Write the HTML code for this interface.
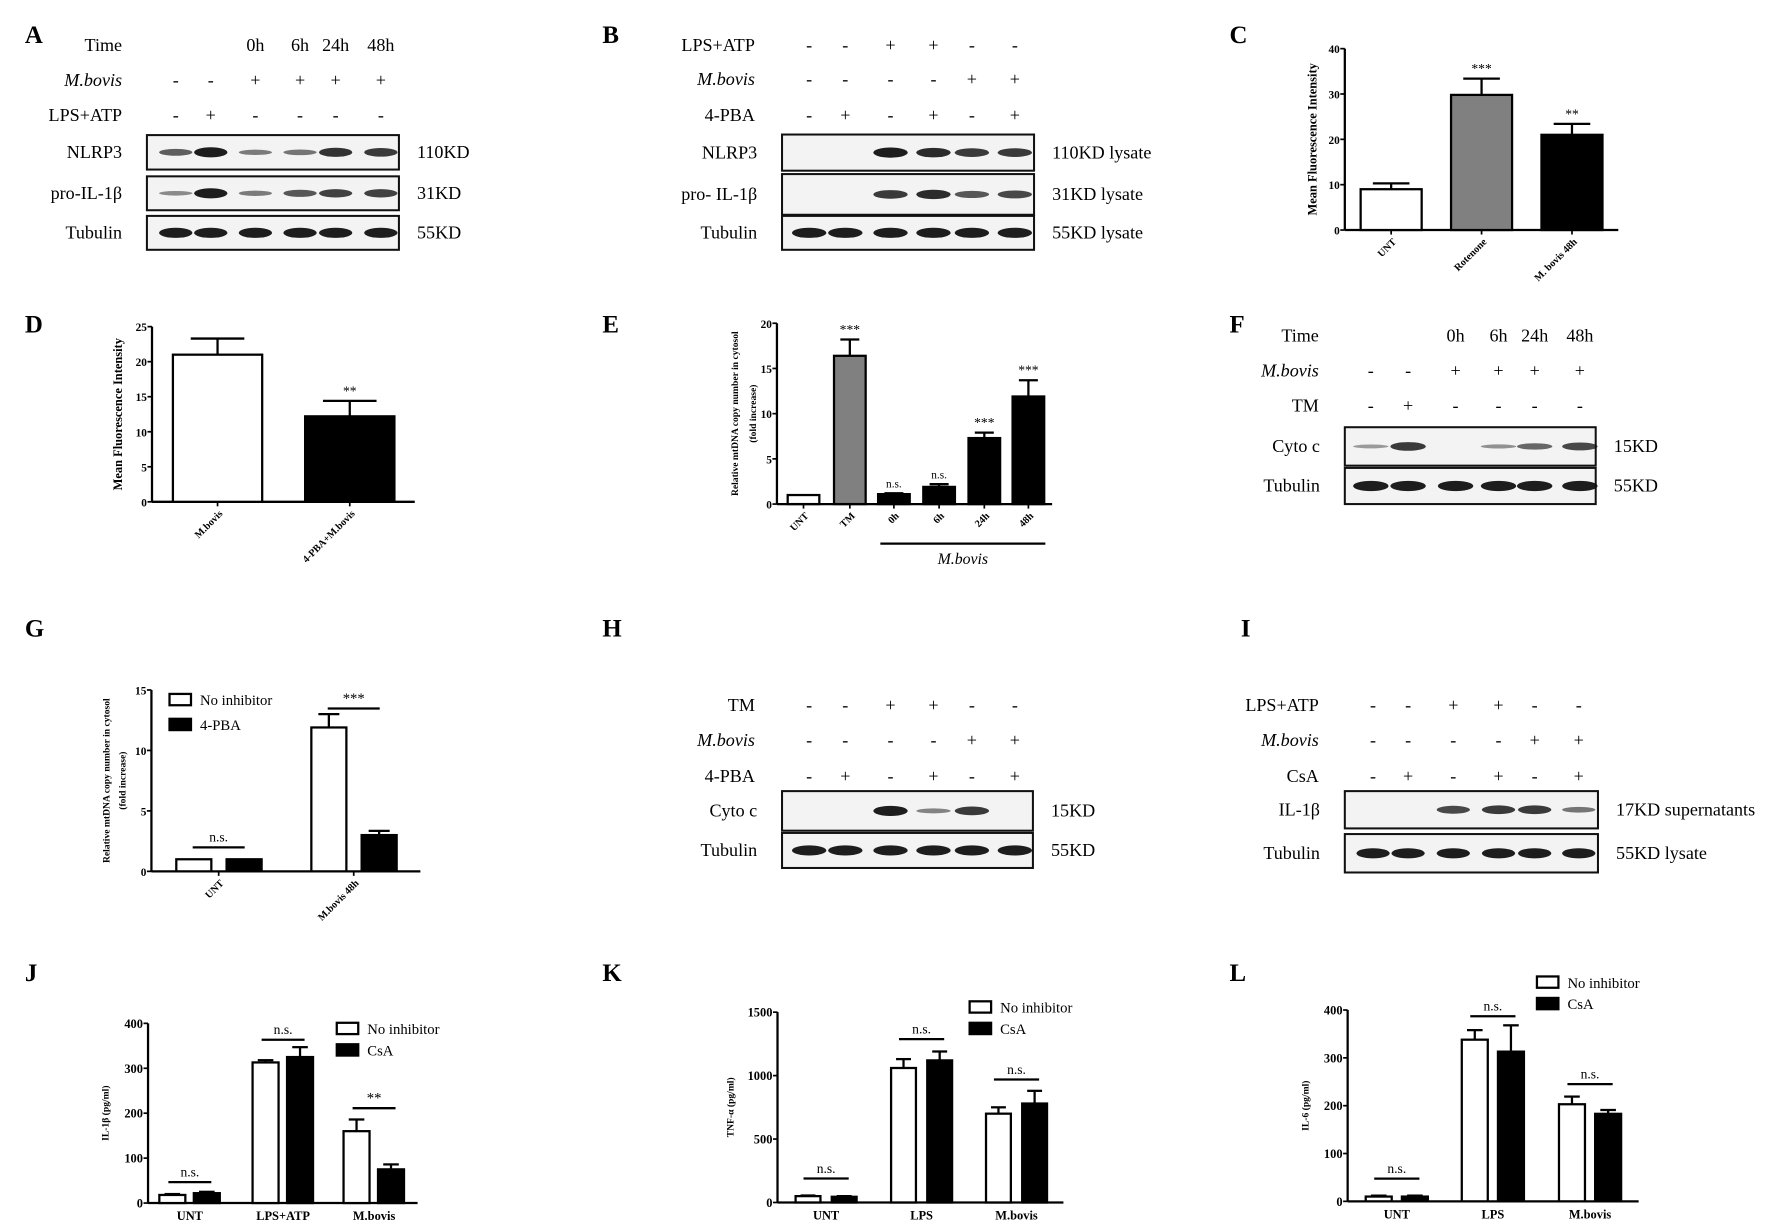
<!DOCTYPE html>
<html><head><meta charset="utf-8"><style>html,body{margin:0;padding:0;background:#fff}svg{display:block}text{font-family:"Liberation Serif",serif}</style></head>
<body>
<svg id="fig" xmlns="http://www.w3.org/2000/svg" width="1772" height="1224" viewBox="0 0 1568 1083"></svg>
<script>
// ---------- chart data ----------
const cCats = ['UNT','Rotenone','M. bovis 48h'];
const cVals = [9, 29.8, 21];
const cErr = [1.3, 3.6, 2.4];
const cTicks = [0,10,20,30,40];

const dCats = ['M.bovis','4-PBA+M.bovis'];
const dVals = [21, 12.2];
const dErr = [2.3, 2.2];
const dTicks = [0,5,10,15,20,25];

const eCats = ['UNT','TM','0h','6h','24h','48h'];
const eVals = [1, 16.4, 1.1, 1.9, 7.3, 11.9];
const eErr = [0, 1.8, 0.1, 0.3, 0.6, 1.8];
const eTicks = [0,5,10,15,20];
const eSig = ['','***','n.s.','n.s.','***','***'];

const gCats = ['UNT','M.bovis 48h'];
const gNoInh = [1, 11.9];
const gPBA = [1, 3];
const gErrNo = [0, 1.1];
const gErrPBA = [0, 0.35];
const gTicks = [0,5,10,15];

const jCats = ['UNT','LPS+ATP','M.bovis'];
const jNoInh = [18, 313, 160];
const jCsA = [22, 325, 75];
const jErrNo = [2, 5, 26];
const jErrCsA = [3, 22, 11];
const jTicks = [0,100,200,300,400];

const kCats = ['UNT','LPS','M.bovis'];
const kNoInh = [50, 1060, 700];
const kCsA = [45, 1120, 780];
const kErrNo = [5, 70, 50];
const kErrCsA = [5, 70, 100];
const kTicks = [0,500,1000,1500];

const lCats = ['UNT','LPS','M.bovis'];
const lNoInh = [10, 338, 203];
const lCsA = [10, 313, 183];
const lErrNo = [2, 20, 16];
const lErrCsA = [2, 55, 8];
const lTicks = [0,100,200,300,400];

// ---------- helpers ----------
const svg = document.getElementById('fig');
const NS = 'http://www.w3.org/2000/svg';
function el(tag, attrs, parent, txt){
  const e = document.createElementNS(NS, tag);
  for (const k in attrs) e.setAttribute(k, attrs[k]);
  if (txt !== undefined) e.textContent = txt;
  (parent || svg).appendChild(e);
  return e;
}
function grp(name, parent){
  const g = document.createElementNS(NS,'g');
  
  
  (parent||svg).appendChild(g);
  return g;
}
function label(name, x, y, letter){
  const t = el('text',{x:x,y:y,'font-family':'Liberation Sans, sans-serif','font-weight':'bold','font-size':22},svg,letter);
  
  
}

function blot(name, o){
  const g = grp(name);
  o.rows.forEach((r,i)=>{
    const t = el('text',{x:o.labelX,y:o.rowY[i],'text-anchor':'end','font-size':16,'font-style':r.italic?'italic':'normal'},g,r.name);
    
    
    r.vals.forEach((v,j)=>{
      const s = el('text',{x:o.lanes[j],y:o.rowY[i],'text-anchor':'middle','font-size':16},g,v);
      
      
    });
  });
  o.boxes.forEach(b=>{
    const bg = grp('blot-'+b.name.replace(/[^a-z0-9]+/gi,'-').toLowerCase(), g);
    el('rect',{x:o.x0,y:b.y0,width:o.x1-o.x0,height:b.y1-b.y0,fill:'#f3f3f3',stroke:'#111','stroke-width':1.8},bg);
    const cy=(b.y0+b.y1)/2;
    b.bands.forEach((w,j)=>{
      if (w<=0) return;
      const lw = (o.lanes[1]-o.lanes[0])*0.95;
      const e = el('ellipse',{cx:o.lanes[j],cy:cy,rx:lw/2,ry:1.2+w*3.3,fill:'#111','fill-opacity':Math.min(1,0.3+w*0.65)},bg);
      
      
    });
    el('text',{x:o.x0-22,y:cy+5,'text-anchor':'end','font-size':16},bg,b.name);
    el('text',{x:o.x1+16,y:cy+5,'font-size':16},bg,b.kd);
  });
}

function barChart(name, o){
  const g = grp(name);
  const ys = v => o.y0 - (v - o.tmin)/(o.tmax-o.tmin)*(o.y0-o.y1);
  el('line',{x1:o.ax,y1:o.y1,x2:o.ax,y2:o.y0,stroke:'#000','stroke-width':2},g);
  el('line',{x1:o.ax,y1:o.y0,x2:o.axEnd,y2:o.y0,stroke:'#000','stroke-width':2},g);
  o.ticks.forEach(t=>{
    const y=ys(t);
    el('line',{x1:o.ax-4,y1:y,x2:o.ax,y2:y,stroke:'#000','stroke-width':1.5},g);
    const tl = el('text',{x:o.ax-4.5,y:y+4,'text-anchor':'end','font-family':'Liberation Sans, sans-serif','font-weight':'bold','font-size':o.tickFs||10},g,t);
    
    
  });
  o.ylabel.forEach((lab,i)=>{
    const yl = el('text',{transform:`translate(${o.ylx[i]},${(o.y0+o.y1)/2}) rotate(-90)`,'text-anchor':'middle','font-weight':'bold','font-size':o.ylFs||10},g,lab);
    
    
  });
  o.series.forEach((s,si)=>{
    s.vals.forEach((v,i)=>{
      const cx = o.centers[i] + (o.offsets? o.offsets[si]:0);
      const col = s.colors? s.colors[i] : s.color;
      const top = ys(v), w=o.bw;
      if (s.err[i]>0){
        const ey = ys(v+s.err[i]);
        el('line',{x1:cx,y1:top,x2:cx,y2:ey,stroke:'#000','stroke-width':2},g);
        el('line',{x1:cx-w*0.3,y1:ey,x2:cx+w*0.3,y2:ey,stroke:'#000','stroke-width':2},g);
      }
      const r = el('rect',{x:cx-w/2,y:top,width:w,height:o.y0-top,fill:col,stroke:'#000','stroke-width':2},g);
      
      
      if (s.sig && s.sig[i]){
        const st = el('text',{x:cx,y:ys(v+s.err[i])-5,'text-anchor':'middle','font-size':s.sig[i]==='n.s.'?10:12},g,s.sig[i]);
        
        
      }
    });
  });
  o.cats.forEach((c,i)=>{
    const x=o.centers[i];
    if (o.rotate){
      el('line',{x1:x,y1:o.y0,x2:x,y2:o.y0+4,stroke:'#000','stroke-width':1.5},g);
      const t = el('text',{transform:`translate(${x+5},${o.y0+11}) rotate(-45)`,'text-anchor':'end','font-weight':'bold','font-size':o.catFs||9},g,c);
      
      
    } else {
      const t = el('text',{x:x,y:o.y0+15,'text-anchor':'middle','font-weight':'bold','font-size':11},g,c);
      
      
    }
  });
  if (o.groupSig){
    o.groupSig.forEach((sg,i)=>{
      const top = Math.max(...o.series.map(s=>s.vals[i]+s.err[i]));
      const y = ys(top) - o.sigGap[i];
      const x = o.centers[i];
      el('line',{x1:x-o.sigHalf,y1:y,x2:x+o.sigHalf,y2:y,stroke:'#000','stroke-width':2},g);
      const t = el('text',{x:x,y:y-5,'text-anchor':'middle','font-size':sg==='n.s.'?12:13},g,sg);
      
      
    });
  }
  if (o.legend){
    o.legend.forEach((L,i)=>{
      const lg = grp('legend-entry', g);
      el('rect',{x:o.legX,y:o.legY+i*o.legStep,width:19,height:10,fill:L.c,stroke:'#000','stroke-width':2},lg);
      el('text',{x:o.legX+27,y:o.legY+i*o.legStep+10,'font-size':13},lg,L.t);
    });
  }
  return ys;
}

// ---------- panels ----------
label('panel-label-a',22,38,'A');
blot('panel-a',{labelX:108,lanes:[155.5,186.5,226,265.5,297,337],rowY:[45,76,107],
  rows:[{name:'Time',vals:['','','0h','6h','24h','48h']},{name:'M.bovis',italic:true,vals:['-','-','+','+','+','+']},{name:'LPS+ATP',vals:['-','+','-','-','-','-']}],
  x0:130,x1:353,boxes:[{name:'NLRP3',kd:'110KD',y0:119.5,y1:150,bands:[0.55,1,0.35,0.4,0.85,0.8]},
         {name:'pro-IL-1β',kd:'31KD',y0:156,y1:186,bands:[0.25,1,0.35,0.6,0.75,0.75]},
         {name:'Tubulin',kd:'55KD',y0:191,y1:221,bands:[1,1,1,1,1,1]}]});

label('panel-label-b',533,38,'B');
blot('panel-b',{labelX:668,lanes:[716,748,788,826,860,898],rowY:[45,75,107],
  rows:[{name:'LPS+ATP',vals:['-','-','+','+','-','-']},{name:'M.bovis',italic:true,vals:['-','-','-','-','+','+']},{name:'4-PBA',vals:['-','+','-','+','-','+']}],
  x0:692,x1:915,boxes:[{name:'NLRP3',kd:'110KD lysate',y0:119,y1:151,bands:[0,0,1,0.9,0.8,0.8]},
   {name:'pro- IL-1β',kd:'31KD lysate',y0:154,y1:190,bands:[0,0,0.8,0.9,0.6,0.7]},
   {name:'Tubulin',kd:'55KD lysate',y0:191,y1:221,bands:[1,1,1,1,1,1]}]});

label('panel-label-c',1088,38,'C');
barChart('panel-c-chart',{ax:1190,axEnd:1432,y0:203.5,y1:43,tmin:0,tmax:40,ticks:cTicks,ylx:[1165],ylFs:11,ylabel:['Mean Fluorescence Intensity'],
  cats:cCats,centers:[1231,1311,1391],bw:54,rotate:true,catFs:9,
  series:[{vals:cVals,err:cErr,colors:['#fff','#808080','#000'],sig:['','***','**']}]});

label('panel-label-d',22,294,'D');
barChart('panel-d-chart',{ax:134.5,axEnd:367,y0:444,y1:289,tmin:0,tmax:25,ticks:dTicks,ylx:[108],ylFs:11,ylabel:['Mean Fluorescence Intensity'],
  cats:dCats,centers:[192.5,309.5],bw:79,rotate:true,catFs:9,
  series:[{vals:dVals,err:dErr,colors:['#fff','#000'],sig:['','**']}]});

label('panel-label-e',533,294,'E');
barChart('panel-e-chart',{ax:687.5,axEnd:931,y0:446,y1:286,tmin:0,tmax:20,ticks:eTicks,ylx:[653,669],ylFs:8.5,ylabel:['Relative mtDNA copy number in cytosol','(fold increase)'],
  cats:eCats,centers:[711,752,791,831,871,910],bw:28,rotate:true,catFs:9,
  series:[{vals:eVals,err:eErr,colors:['#fff','#808080','#000','#000','#000','#000'],sig:eSig}]});
el('line',{x1:779,y1:481,x2:925,y2:481,stroke:'#000','stroke-width':2});
el('text',{x:852,y:499,'text-anchor':'middle','font-style':'italic','font-size':14},svg,'M.bovis');

label('panel-label-f',1088,294,'F');
blot('panel-f',{labelX:1167,lanes:[1213,1246,1288,1326,1358,1398],rowY:[302,333,364],
  rows:[{name:'Time',vals:['','','0h','6h','24h','48h']},{name:'M.bovis',italic:true,vals:['-','-','+','+','+','+']},{name:'TM',vals:['-','+','-','-','-','-']}],
  x0:1190,x1:1412,boxes:[{name:'Cyto c',kd:'15KD',y0:378,y1:412,bands:[0.15,0.8,0,0.2,0.5,0.7]},
   {name:'Tubulin',kd:'55KD',y0:414,y1:446,bands:[1,1,1,1,1,1]}]});

label('panel-label-g',22,563,'G');
barChart('panel-g-chart',{ax:134,axEnd:372,y0:771,y1:610.5,tmin:0,tmax:15,ticks:gTicks,ylx:[97,111],ylFs:8.5,ylabel:['Relative mtDNA copy number in cytosol','(fold increase)'],
  cats:gCats,centers:[193.5,313],offsets:[-22,22.5],bw:31,rotate:true,catFs:9,
  series:[{vals:gNoInh,err:gErrNo,color:'#fff'},{vals:gPBA,err:gErrPBA,color:'#000'}],
  groupSig:['n.s.','***'],sigGap:[10.5,5],sigHalf:23,
  legend:[{t:'No inhibitor',c:'#fff'},{t:'4-PBA',c:'#000'}],legX:150,legY:614,legStep:22});

label('panel-label-h',533,563,'H');
blot('panel-h',{labelX:668,lanes:[716,748,788,826,860,898],rowY:[629,660,692],
  rows:[{name:'TM',vals:['-','-','+','+','-','-']},{name:'M.bovis',italic:true,vals:['-','-','-','-','+','+']},{name:'4-PBA',vals:['-','+','-','+','-','+']}],
  x0:692,x1:914,boxes:[{name:'Cyto c',kd:'15KD',y0:700,y1:735,bands:[0,0,1,0.3,0.8,0]},
   {name:'Tubulin',kd:'55KD',y0:737,y1:768,bands:[1,1,1,1,1,1]}]});

label('panel-label-i',1098,563,'I');
blot('panel-i',{labelX:1167,lanes:[1215,1246,1286,1326,1358,1397],rowY:[629,660,692],
  rows:[{name:'LPS+ATP',vals:['-','-','+','+','-','-']},{name:'M.bovis',italic:true,vals:['-','-','-','-','+','+']},{name:'CsA',vals:['-','+','-','+','-','+']}],
  x0:1190,x1:1414,boxes:[{name:'IL-1β',kd:'17KD supernatants',y0:700,y1:733,bands:[0,0,0.7,0.8,0.8,0.4]},
   {name:'Tubulin',kd:'55KD lysate',y0:738,y1:772,bands:[1,1,1,1,1,1]}]});

label('panel-label-j',22,868,'J');
barChart('panel-j-chart',{ax:131,axEnd:369.5,y0:1064.5,y1:905.5,tmin:0,tmax:400,ticks:jTicks,ylx:[96],ylFs:8.5,ylabel:['IL-1β (pg/ml)'],
  cats:jCats,centers:[168,250.5,331],offsets:[-15.5,15],bw:23,tickFs:11,
  series:[{vals:jNoInh,err:jErrNo,color:'#fff'},{vals:jCsA,err:jErrCsA,color:'#000'}],
  groupSig:['n.s.','n.s.','**'],sigGap:[8.6,6.6,10],sigHalf:19,
  legend:[{t:'No inhibitor',c:'#fff'},{t:'CsA',c:'#000'}],legX:298,legY:905,legStep:19});

label('panel-label-k',533,868,'K');
barChart('panel-k-chart',{ax:688,axEnd:941,y0:1064,y1:895.6,tmin:0,tmax:1500,ticks:kTicks,ylx:[649],ylFs:8.5,ylabel:['TNF-α (pg/ml)'],
  cats:kCats,centers:[731,815.5,899.5],offsets:[-16,16],bw:22,tickFs:11,
  series:[{vals:kNoInh,err:kErrNo,color:'#fff'},{vals:kCsA,err:kErrCsA,color:'#000'}],
  groupSig:['n.s.','n.s.','n.s.'],sigGap:[15,11,10],sigHalf:20,
  legend:[{t:'No inhibitor',c:'#fff'},{t:'CsA',c:'#000'}],legX:858,legY:886,legStep:19});

label('panel-label-l',1088,868,'L');
barChart('panel-l-chart',{ax:1192.5,axEnd:1450,y0:1063,y1:893.7,tmin:0,tmax:400,ticks:lTicks,ylx:[1158],ylFs:8.5,ylabel:['IL-6 (pg/ml)'],
  cats:lCats,centers:[1236,1321,1407],offsets:[-16,16],bw:23,tickFs:11,
  series:[{vals:lNoInh,err:lErrNo,color:'#fff'},{vals:lCsA,err:lErrCsA,color:'#000'}],
  groupSig:['n.s.','n.s.','n.s.'],sigGap:[15,8,11],sigHalf:20,
  legend:[{t:'No inhibitor',c:'#fff'},{t:'CsA',c:'#000'}],legX:1360,legY:864,legStep:19});
</script>
</body></html>
